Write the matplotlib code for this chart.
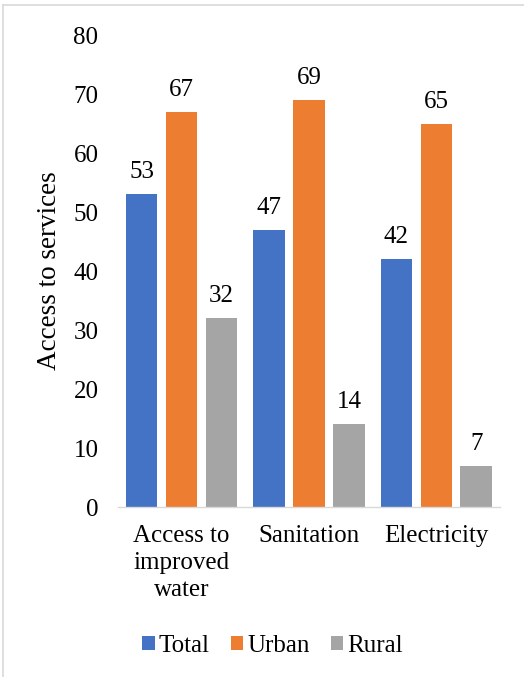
import matplotlib
matplotlib.use("Agg")
import matplotlib.pyplot as plt
from matplotlib.lines import Line2D
import numpy as np

categories = ["Access to\nimproved\nwater", "Sanitation", "Electricity"]
series_names = ["Total", "Urban", "Rural"]
total = [53, 47, 42]
urban = [67, 69, 65]
rural = [32, 14, 7]
colors = ["#4472C4", "#ED7D31", "#A5A5A5"]
yticks = [0, 10, 20, 30, 40, 50, 60, 70, 80]

plt.rcParams["font.family"] = ["Liberation Serif", "DejaVu Serif"]
plt.rcParams["font.size"] = 18

fig = plt.figure(figsize=(5.24, 6.77), dpi=100)
ax = fig.add_axes([0.225, 0.2511, 0.729, 0.697])

x = np.arange(len(categories))
width = 0.247
step = 0.314
for i, (name, vals, c) in enumerate(zip(series_names, [total, urban, rural], colors)):
    pos = x + (i - 1) * step
    bars = ax.bar(pos, vals, width, color=c, label=name, zorder=2)
    for b, v in zip(bars, vals):
        ax.annotate(f"{v}", (b.get_x() + b.get_width() / 2, v),
                    xytext=(0, 8), textcoords="offset points",
                    ha="center", va="bottom", fontsize=18, color="#000000")

ax.set_xlim(-0.5, 2.5)
ax.set_ylim(0, 80)
ax.set_yticks(yticks)
ax.set_xticks(x)
ax.set_xticklabels(categories, linespacing=1.28)
ax.tick_params(axis="both", length=0, labelsize=18, colors="#000000")
ax.tick_params(axis="y", pad=14)
ax.tick_params(axis="x", pad=13)
for side in ["top", "right", "left"]:
    ax.spines[side].set_visible(False)
ax.spines["bottom"].set_color("#D9D9D9")
ax.spines["bottom"].set_linewidth(1.0)

ax.set_ylabel("Access to services", fontsize=19.5)
ax.yaxis.set_label_coords(-0.147, 0.5)

fig.legend(loc="center", bbox_to_anchor=(0.52, 0.0465), ncol=3, frameon=False,
           handlelength=0.5, handleheight=0.5, handletextpad=0.15,
           columnspacing=0.85, fontsize=18)

# thin frame along the left and top of the chart area
fig.add_artist(Line2D([3 / 524, 3 / 524], [0, 1 - 5 / 677], transform=fig.transFigure,
                      color="#D9D9D9", linewidth=1.2))
fig.add_artist(Line2D([3 / 524, 1], [1 - 5 / 677, 1 - 5 / 677], transform=fig.transFigure,
                      color="#D9D9D9", linewidth=1.2))

fig.savefig("out.png", dpi=100)
